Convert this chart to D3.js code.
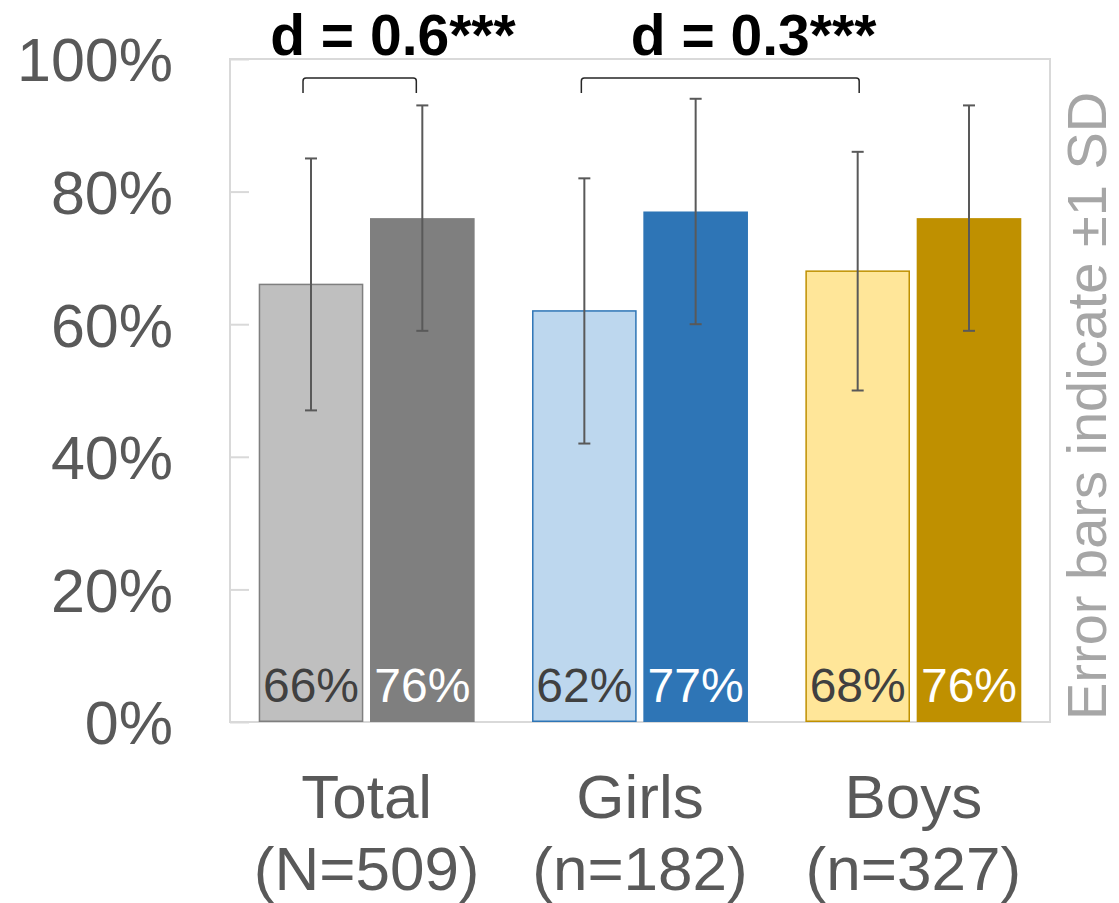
<!DOCTYPE html>
<html>
<head>
<meta charset="utf-8">
<script src="https://cdn.jsdelivr.net/npm/d3@7"></script>
<style>
  html, body { margin: 0; padding: 0; background: #fff; }
  svg { display: block; font-family: "Liberation Sans", Arial, sans-serif; }
</style>
</head>
<body>
<svg id="chart" width="1119" height="903"></svg>
<script>
// ---- data ----
const categories = ["Total", "Girls", "Boys"];
const sampleLabels = ["(N=509)", "(n=182)", "(n=327)"];
const series = ["pre", "post"];
const preMeans = [66, 62, 68];
const postMeans = [76, 77, 76];
const preSD = [19, 20, 18];
const postSD = [17, 17, 17];
const yTicks = [0, 20, 40, 60, 80, 100];
const effectLabels = ["d = 0.6", "d = 0.3"];
const effectStars = ["***", "***"];
const sideNote = "Error bars indicate \u00B11 SD";

// colours per category: [light fill, light stroke, dark fill]
const lightFill = ["#BFBFBF", "#BDD7EE", "#FFE699"];
const lightStroke = ["#7F7F7F", "#2E75B6", "#BF9000"];
const darkFill = ["#7F7F7F", "#2E75B6", "#BF9000"];

// ---- layout ----
const svg = d3.select("#chart");
const plot = { left: 230, right: 1050, top: 59, bottom: 722 };

const x0 = d3.scaleBand().domain(categories).range([plot.left, plot.right])
  .paddingInner(0.21).paddingOuter(0.105);
const x1 = d3.scaleBand().domain(series).range([0, x0.bandwidth()]).paddingInner(0.06);
const y = d3.scaleLinear().domain([0, 100]).range([plot.bottom, plot.top]);

const bars = [];
categories.forEach((c, i) => {
  bars.push({ cat: c, ci: i, s: "pre", mean: preMeans[i], sd: preSD[i] });
  bars.push({ cat: c, ci: i, s: "post", mean: postMeans[i], sd: postSD[i] });
});
const cx = d => x0(d.cat) + x1(d.s) + x1.bandwidth() / 2;

// plot border
svg.append("rect")
  .attr("x", plot.left).attr("y", plot.top)
  .attr("width", plot.right - plot.left).attr("height", plot.bottom - plot.top)
  .attr("fill", "none").attr("stroke", "#D9D9D9").attr("stroke-width", 2);

// y axis
const yAxis = d3.axisLeft(y).tickValues(yTicks).tickFormat(d => d + "%")
  .tickSize(-19).tickPadding(57);
const gy = svg.append("g").attr("transform", `translate(${plot.left},0)`).call(yAxis);
gy.select(".domain").remove();
gy.selectAll(".tick line").attr("stroke", "#D9D9D9").attr("stroke-width", 2);
gy.selectAll(".tick text").attr("fill", "#595959").attr("font-size", 61)
  .attr("dy", "0.36em").attr("font-family", "Liberation Sans, Arial, sans-serif");

// bars
svg.append("g").selectAll("rect").data(bars).join("rect")
  .attr("x", d => x0(d.cat) + x1(d.s) + (d.s === "pre" ? 0.75 : 0))
  .attr("y", d => y(d.mean))
  .attr("width", d => x1.bandwidth() - (d.s === "pre" ? 1.5 : 0))
  .attr("height", d => y(0) - y(d.mean) - (d.s === "pre" ? 0.75 : 0))
  .attr("fill", d => d.s === "pre" ? lightFill[d.ci] : darkFill[d.ci])
  .attr("stroke", d => d.s === "pre" ? lightStroke[d.ci] : "none")
  .attr("stroke-width", 1.5);

// error bars
const eb = svg.append("g").attr("stroke", "#595959").attr("stroke-width", 2);
bars.forEach(d => {
  const xc = cx(d);
  eb.append("line").attr("x1", xc).attr("x2", xc).attr("y1", y(d.mean + d.sd)).attr("y2", y(d.mean - d.sd));
  eb.append("line").attr("x1", xc - 6).attr("x2", xc + 6).attr("y1", y(d.mean + d.sd)).attr("y2", y(d.mean + d.sd));
  eb.append("line").attr("x1", xc - 6).attr("x2", xc + 6).attr("y1", y(d.mean - d.sd)).attr("y2", y(d.mean - d.sd));
});

// value labels
svg.append("g").selectAll("text").data(bars).join("text")
  .attr("x", d => cx(d)).attr("y", y(0) - 20)
  .attr("text-anchor", "middle").attr("font-size", 48)
  .attr("fill", d => d.s === "pre" ? "#404040" : "#FFFFFF")
  .text(d => d.mean + "%");

// category labels
categories.forEach((c, i) => {
  const xc = x0(c) + x0.bandwidth() / 2;
  const t = svg.append("text").attr("text-anchor", "middle").attr("font-size", 62).attr("fill", "#595959");
  t.append("tspan").attr("x", xc).attr("y", 818).text(c);
  t.append("tspan").attr("x", xc).attr("y", 890).text(sampleLabels[i]);
});

// significance brackets
const brackets = [
  { x1: cx(bars[0]) - 8, x2: cx(bars[1]) - 6 },
  { x1: cx(bars[2]) - 3, x2: cx(bars[4]) + 1.5 }
];
const bTop = plot.top + 19, bBot = plot.top + 34, r = 3;
brackets.forEach((b, i) => {
  svg.append("path")
    .attr("d", `M${b.x1},${bBot} V${bTop + r} Q${b.x1},${bTop} ${b.x1 + r},${bTop} H${b.x2 - r} Q${b.x2},${bTop} ${b.x2},${bTop + r} V${bBot}`)
    .attr("fill", "none").attr("stroke", "#262626").attr("stroke-width", 1.5);
  const mid = (b.x1 + b.x2) / 2;
  const t = svg.append("text").attr("x", mid).attr("y", 55)
    .attr("text-anchor", "middle").attr("font-size", 57).attr("font-weight", "bold").attr("fill", "#000")
    .text(effectLabels[i]);
  const w = t.node().getComputedTextLength();
  svg.append("text").attr("x", mid + w / 2).attr("y", 55)
    .attr("font-size", 57).attr("font-weight", "bold").attr("fill", "#000")
    .text(effectStars[i]);
});

// side note
svg.append("text")
  .attr("transform", "translate(1106,720) rotate(-90)")
  .attr("font-size", 56).attr("fill", "#A6A6A6")
  .text(sideNote);
</script>
</body>
</html>
